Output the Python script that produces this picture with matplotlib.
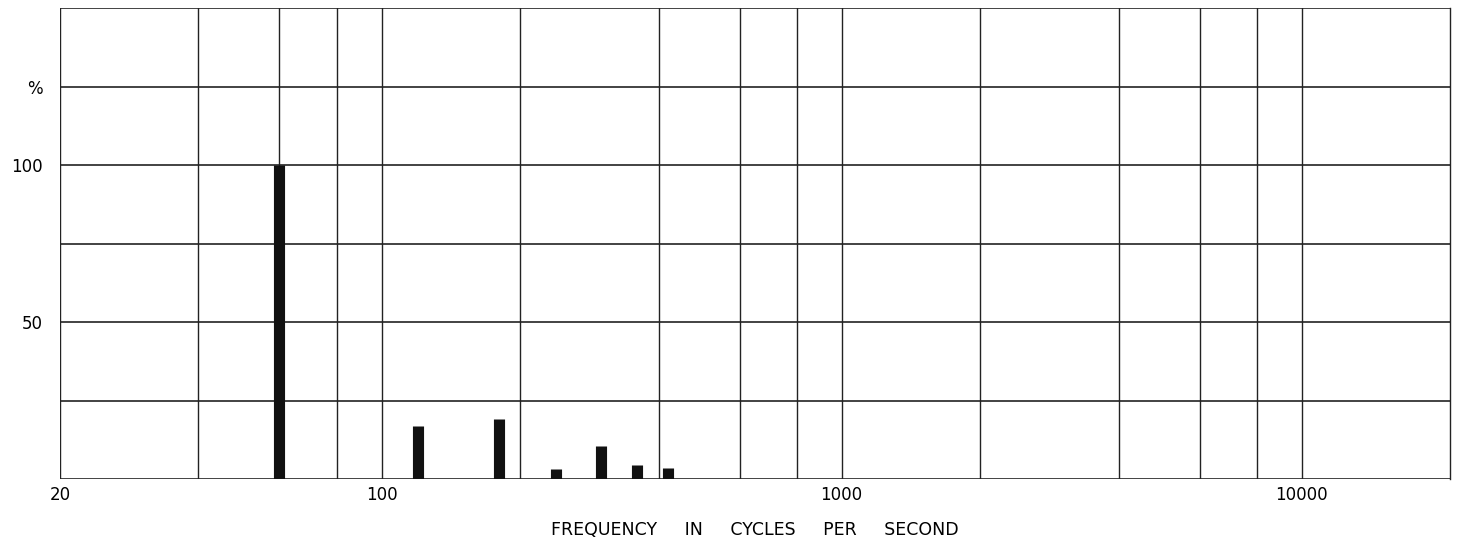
import numpy as np
import matplotlib.pyplot as plt

# harmonic components (Hz) and relative amplitude (%)
freq = [60, 120, 180, 240, 300, 360, 420]
amp = [100, 17, 19, 3.1, 10.4, 4.6, 3.5]

x_grid = [20, 40, 60, 80, 100, 200, 400, 600, 800, 1000, 2000, 4000, 6000, 8000, 10000]
x_labels = [20, 100, 1000, 10000]
y_grid = [0, 25, 50, 75, 100, 125, 150]
y_labels = [50, 100]

plt.rcParams['font.family'] = ['DejaVu Sans']

fig = plt.figure(figsize=(14.61, 5.46), dpi=100)
ax = fig.add_axes([0.041, 0.1227, 0.9515, 0.8623])

ax.set_xscale('log')
ax.set_xlim(20, 21000)
ax.set_ylim(0, 150)

# hand-drawn style grid
for g in x_grid:
    ax.axvline(g, color='#222222', lw=1.0, zorder=1)
for g in y_grid:
    ax.axhline(g, color='#222222', lw=1.2, zorder=1)

# spectral lines
ax.vlines(freq, 0, amp, colors='#111111', lw=8, zorder=3)
ax.collections[-1].set_capstyle('butt')

for k, s in ax.spines.items():
    s.set_visible(k == 'right')
ax.spines['right'].set_color('#222222')
ax.spines['right'].set_linewidth(1.0)

ax.set_xticks(x_labels)
ax.set_xticklabels([str(v) for v in x_labels], fontsize=12)
ax.xaxis.set_minor_locator(plt.NullLocator())
ax.set_yticks(y_labels + [125])
ax.set_yticklabels([str(v) for v in y_labels] + ['%'], fontsize=12)
ax.tick_params(axis='x', length=0, pad=5)
ax.tick_params(axis='y', length=0, pad=12)

gap = ' ' * 5
ax.set_xlabel(gap.join(['FREQUENCY', 'IN', 'CYCLES', 'PER', 'SECOND']),
              fontsize=12.5, labelpad=12)

fig.savefig('out.png', dpi=100)
